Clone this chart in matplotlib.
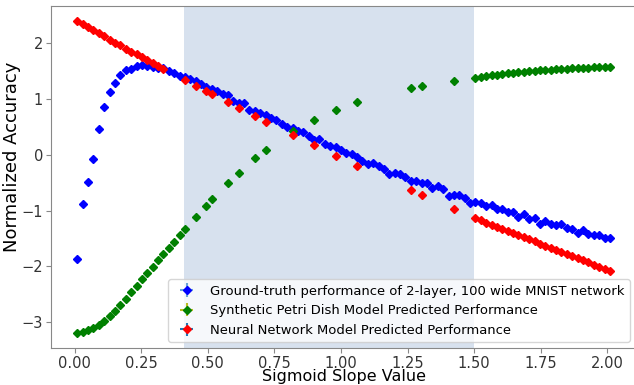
import numpy as np
import matplotlib
matplotlib.use("Agg")
from matplotlib import pyplot as plt

# sigmoid slope grid (100 evenly spaced settings)
slopes = np.linspace(0.01, 2.01, 100)

# ground truth, one value per slope
ground_truth = [
    -1.86, -0.89, -0.485, -0.084, 0.461, 0.849, 1.126, 1.28, 1.431, 1.508,
    1.538, 1.592, 1.598, 1.585, 1.574, 1.556, 1.544, 1.50, 1.457, 1.413,
    1.386, 1.349, 1.313, 1.262, 1.21, 1.172, 1.14, 1.092, 1.065, 0.964,
    0.928, 0.916, 0.804, 0.777, 0.749, 0.71, 0.652, 0.623, 0.551, 0.497,
    0.479, 0.425, 0.40, 0.341, 0.263, 0.275, 0.192, 0.156, 0.138, 0.084,
    0.031, 0.006, -0.048, -0.108, -0.167, -0.149, -0.21, -0.257, -0.341, -0.323,
    -0.347, -0.395, -0.472, -0.472, -0.508, -0.508, -0.60, -0.56, -0.613, -0.736,
    -0.715, -0.73, -0.781, -0.86, -0.853, -0.856, -0.91, -0.906, -0.964, -0.964,
    -1.029, -1.018, -1.108, -1.059, -1.154, -1.137, -1.244, -1.185, -1.244, -1.251,
    -1.244, -1.311, -1.334, -1.395, -1.352, -1.424, -1.442, -1.436, -1.485, -1.49,
]

# slope indices where the models were evaluated
sparse_idx = [20, 22, 24, 25, 28, 30, 33, 35, 40, 44, 48, 52, 62, 64, 70]
right_idx = list(range(74, 100))

petri_idx = list(range(0, 20)) + sparse_idx + right_idx
petri_pred = [
    -3.183, -3.178, -3.142, -3.10, -3.04, -2.968, -2.878, -2.789, -2.687, -2.573,
    -2.46, -2.352, -2.232, -2.113, -2.005, -1.891, -1.777, -1.664, -1.556, -1.442,
    # sparse
    -1.329, -1.107, -0.91, -0.795, -0.508, -0.323, -0.066, 0.09, 0.431, 0.628,
    0.80, 0.939, 1.185, 1.226, 1.323,
    # right
    1.370, 1.388, 1.400, 1.418, 1.430, 1.442, 1.454, 1.466, 1.472, 1.484,
    1.490, 1.502, 1.508, 1.514, 1.520, 1.526, 1.532, 1.538, 1.544, 1.550,
    1.550, 1.556, 1.562, 1.568, 1.568, 1.574,
]

nn_idx = list(range(0, 17)) + sparse_idx + right_idx
nn_pred = [
    2.382, 2.328, 2.275, 2.221, 2.167, 2.113, 2.059, 2.005, 1.952, 1.898,
    1.844, 1.795, 1.747, 1.693, 1.639, 1.592, 1.539,
    # sparse
    1.334, 1.233, 1.136, 1.083, 0.939, 0.831, 0.688, 0.592, 0.354, 0.167,
    -0.018, -0.197, -0.634, -0.718, -0.975,
    # right
    -1.137, -1.173, -1.215, -1.251, -1.293, -1.329, -1.364, -1.406, -1.442, -1.478,
    -1.514, -1.550, -1.592, -1.628, -1.664, -1.700, -1.742, -1.778, -1.814, -1.856,
    -1.892, -1.927, -1.969, -2.005, -2.041, -2.083,
]

labels = [
    "Ground-truth performance of 2-layer, 100 wide MNIST network",
    "Synthetic Petri Dish Model Predicted Performance",
    "Neural Network Model Predicted Performance",
]

fig = plt.figure(figsize=(6.34, 3.85), dpi=100)
ax = fig.add_axes([0.080, 0.0961, 0.924, 0.8883])

ax.axvspan(0.41, 1.5, color="lightsteelblue", alpha=0.5, lw=0)

ms = 4.3
series = [
    (slopes, ground_truth, "b", "#6aa3d8"),
    (slopes[petri_idx], petri_pred, "g", "#bcbd22"),
    (slopes[nn_idx], nn_pred, "r", "#1f77b4"),
]
for (xs, ys, c, ec), lab in zip(series, labels):
    n = len(xs)
    ax.errorbar(xs, ys, xerr=np.zeros(n), yerr=np.zeros(n), fmt="D", color=c,
                ecolor=ec, ms=ms, label=lab)

ax.set_xlim(-0.09, 2.11)
ax.set_ylim(-3.458, 2.658)
ax.set_xticks([0, 0.25, 0.5, 0.75, 1.0, 1.25, 1.5, 1.75, 2.0])
ax.set_yticks([-3, -2, -1, 0, 1, 2])
ax.set_xlabel("Sigmoid Slope Value", fontsize=11.5, labelpad=-1)
ax.set_ylabel("Normalized Accuracy", fontsize=13)
ax.yaxis.set_label_coords(-0.051, 0.56)
ax.tick_params(labelsize=10.5, colors="#333333", color="#888888", pad=2)
for s in ax.spines.values():
    s.set_color("#888888")

ax.legend(loc="lower right", bbox_to_anchor=(0.989, 0.0175), borderaxespad=0,
          fontsize=9.45, handlelength=2.0)

fig.savefig("out.png", dpi=100)
